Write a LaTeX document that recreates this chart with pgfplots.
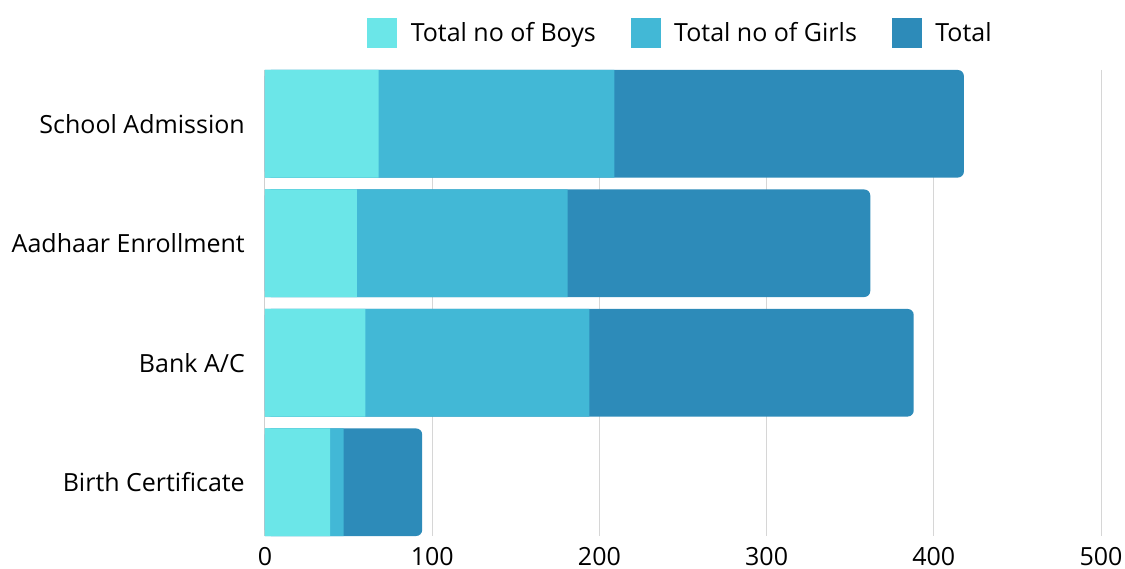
\documentclass[border=0pt]{standalone}
\usepackage{pgfplots}
\pgfplotsset{compat=1.18}
\usepackage{pgfplotstable}
\usepackage{fontspec}
\setmainfont{Open Sans}
\definecolor{boys}{HTML}{6BE6E8}
\definecolor{girls}{HTML}{42B8D6}
\definecolor{tot}{HTML}{2D8BB9}
\definecolor{gridc}{HTML}{D6D6D6}
\pgfplotstableread{
idx boys girls total
0 68 141 209
1 55 126 181
2 60 134 194
3 39 8 47
}\data
\begin{document}
\begin{tikzpicture}
\begin{axis}[
  scale only axis, width=836pt, height=466pt,
  xbar, bar width=0.9, bar shift=0pt,
  xmin=0, xmax=500, ymin=-0.45, ymax=3.45, y dir=reverse,
  axis line style={draw=none}, tick style={draw=none},
  major tick length=0pt,
  xtick={0,100,...,500}, xmajorgrids, grid style={gridc, line width=1pt},
  ytick={0,1,2,3},
  yticklabels={School Admission, Aadhaar Enrollment, Bank A/C, Birth Certificate},
  tick label style={font=\fontsize{25}{29}\selectfont},
  /pgf/number format/assume math mode=true,
  yticklabel style={anchor=east, inner sep=0pt, xshift=-20pt},
  xticklabel style={anchor=north, inner sep=0pt, yshift=-11.5pt},
  legend columns=3,
  legend style={at={(0.5,1)}, anchor=center, xshift=-3.5pt, yshift=37pt,
    draw=none, fill=none, font=\fontsize{25}{29}\selectfont,
    nodes={inner xsep=0pt},
    /tikz/every odd column/.append style={column sep=14pt},
    /tikz/every even column/.append style={column sep=35pt}},
  legend image code/.code={\fill[#1] (0pt,-14.5pt) rectangle (29pt,14.5pt);},
]
\addlegendimage{boys}
\addlegendentry{Total no of Boys}
\addlegendimage{girls}
\addlegendentry{Total no of Girls}
\addlegendimage{tot}
\addlegendentry{Total}
\draw[gray!70, line width=1pt] (axis cs:0,-0.45) -- (axis cs:0,3.45);
\addplot[fill=tot, draw=none, rounded corners=6pt, forget plot]
  table[y=idx, x expr=\thisrow{boys}+\thisrow{girls}+\thisrow{total}] {\data};
\addplot[fill=girls, draw=none, forget plot]
  table[y=idx, x expr=\thisrow{boys}+\thisrow{girls}] {\data};
\addplot[fill=boys, draw=none, forget plot]
  table[y=idx, x=boys] {\data};
\end{axis}
\pgfresetboundingbox
\path[use as bounding box] ([xshift=-265pt,yshift=-33pt]current axis.south west) rectangle ([xshift=24pt,yshift=70pt]current axis.north east);
\end{tikzpicture}
\end{document}
